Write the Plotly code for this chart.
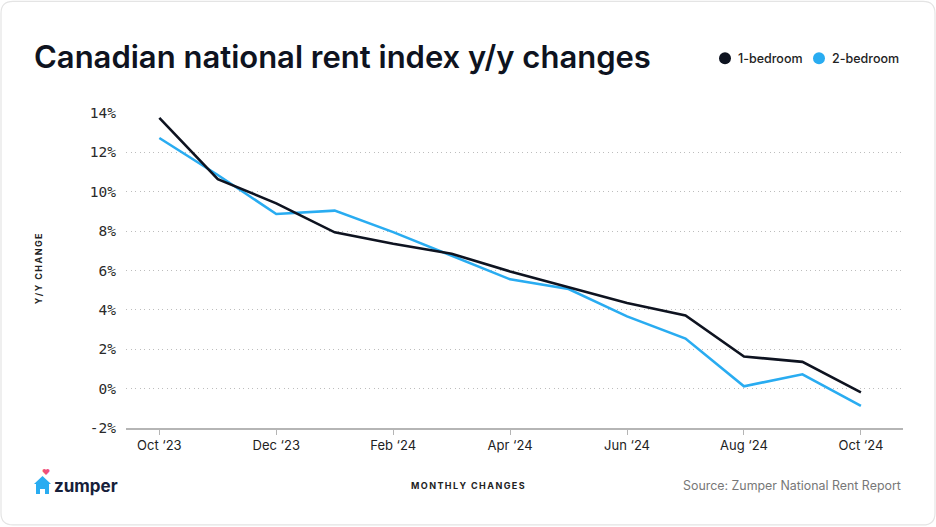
import plotly.graph_objects as go

months = ["Oct 2023", "Nov 2023", "Dec 2023", "Jan 2024", "Feb 2024", "Mar 2024", "Apr 2024",
          "May 2024", "Jun 2024", "Jul 2024", "Aug 2024", "Sep 2024", "Oct 2024"]
one_bed = [13.75, 10.64, 9.41, 7.94, 7.36, 6.85, 5.95, 5.14, 4.35, 3.72, 1.63, 1.36, -0.19]
two_bed = [12.73, 10.85, 8.87, 9.04, 7.95, 6.75, 5.55, 5.06, 3.67, 2.54, 0.12, 0.73, -0.88]
tick_months = ["Oct 2023", "Dec 2023", "Feb 2024", "Apr 2024", "Jun 2024", "Aug 2024", "Oct 2024"]
tick_labels = ["Oct \u201823", "Dec \u201823", "Feb \u201824", "Apr \u201824", "Jun \u201824", "Aug \u201824", "Oct \u201824"]
y_ticks = [-2, 0, 2, 4, 6, 8, 10, 12, 14]
y_labels = ["-2%", "0%", "2%", "4%", "6%", "8%", "10%", "12%", "14%"]
series_names = ["1-bedroom", "2-bedroom"]

BLACK = "#0e1320"
BLUE = "#29acf1"
W, H = 936, 527
L, R, T, B = 126, 903, 111.7, 428


def px(x):
    return (x - L) / (R - L)


def py(y):
    return (B - y) / (B - T)


def spaced(s):
    return "\u2009".join(s)


fig = go.Figure()
fig.add_trace(go.Scatter(x=months, y=two_bed, mode="lines", line=dict(color=BLUE, width=2.6),
                         name=series_names[1], showlegend=False, hoverinfo="skip"))
fig.add_trace(go.Scatter(x=months, y=one_bed, mode="lines", line=dict(color=BLACK, width=2.6),
                         name=series_names[0], showlegend=False, hoverinfo="skip"))

fig.update_layout(
    width=W, height=H,
    margin=dict(l=L, r=W - R, t=T, b=H - B),
    paper_bgcolor="white", plot_bgcolor="white",
    font=dict(family="Inter", color="#222"),
    title=dict(text="Canadian national rent index y/y changes", xref="container", yref="container",
               x=34 / W, xanchor="left", y=1 - 57 / H, yanchor="middle",
               font=dict(family="Inter", size=31, weight=600, color=BLACK)),
    showlegend=False,
    xaxis=dict(type="category", range=[-0.57, 12.72], tickmode="array", tickvals=tick_months,
               ticktext=tick_labels, showgrid=False, showline=True, linecolor="#b5b5b5", linewidth=1.5,
               ticks="outside", ticklen=5, tickcolor="#b5b5b5", tickfont=dict(size=13, color="#222"),
               zeroline=False),
    yaxis=dict(range=[-2, 14.05], tickmode="array", tickvals=y_ticks, ticktext=y_labels,
               showgrid=True, gridcolor="#bdbdbd", griddash="1px,3.5px", gridwidth=1.2, zeroline=False,
               showline=False, ticks="", tickfont=dict(family="DejaVu Sans Mono", size=14.5, color="#2a2a2a"),
               ticklabelstandoff=9),
)

annotations = [
    dict(text="<b>" + spaced("Y/Y CHANGE") + "</b>", x=px(38), y=py(269), textangle=-90,
         font=dict(size=9, color="#222")),
    dict(text="<b>" + spaced("MONTHLY CHANGES") + "</b>", x=px(468), y=py(486),
         font=dict(size=9, color="#222")),
    dict(text="Source: Zumper National Rent Report", x=px(903), y=py(486), xanchor="right",
         font=dict(size=12.4, color="#777")),
    dict(text="<b>zumper</b>", x=px(52), y=py(486), xanchor="left",
         font=dict(size=17, color="#16203a")),
    dict(text="\u2665", x=px(46), y=py(472), font=dict(size=8, color="#f0507a")),
    dict(text=series_names[0], x=px(736), y=py(58), xanchor="left",
         font=dict(size=12.5, weight=500, color="#222")),
    dict(text=series_names[1], x=px(830), y=py(58), xanchor="left",
         font=dict(size=12.5, weight=500, color="#222")),
]
for a in annotations:
    a.update(xref="paper", yref="paper", showarrow=False)
    a.setdefault("xanchor", "center")
    a.setdefault("yanchor", "middle")
fig.update_layout(annotations=annotations)

# card border
r = 12
x0, y0, x1, y1 = 1, 1, 935, 525
card = (f"M {px(x0 + r)} {py(y0)} L {px(x1 - r)} {py(y0)} Q {px(x1)} {py(y0)} {px(x1)} {py(y0 + r)} "
        f"L {px(x1)} {py(y1 - r)} Q {px(x1)} {py(y1)} {px(x1 - r)} {py(y1)} "
        f"L {px(x0 + r)} {py(y1)} Q {px(x0)} {py(y1)} {px(x0)} {py(y1 - r)} "
        f"L {px(x0)} {py(y0 + r)} Q {px(x0)} {py(y0)} {px(x0 + r)} {py(y0)} Z")
house = (f"M {px(42.5)} {py(476)} L {px(51)} {py(484)} L {px(49)} {py(484)} L {px(49)} {py(494)} "
         f"L {px(45)} {py(494)} L {px(45)} {py(489)} L {px(40)} {py(489)} L {px(40)} {py(494)} "
         f"L {px(36)} {py(494)} L {px(36)} {py(484)} L {px(34)} {py(484)} Z")
rx, ry = 6 / (R - L), 6 / (B - T)
shapes = [
    dict(type="path", path=card, line=dict(color="#e4e4e4", width=1.2), layer="below"),
    dict(type="path", path=house, line=dict(width=0), fillcolor=BLUE),
    dict(type="circle", x0=px(725) - rx, x1=px(725) + rx, y0=py(58) - ry, y1=py(58) + ry,
         line=dict(width=0), fillcolor=BLACK),
    dict(type="circle", x0=px(819) - rx, x1=px(819) + rx, y0=py(58) - ry, y1=py(58) + ry,
         line=dict(width=0), fillcolor=BLUE),
]
for s in shapes:
    s.update(xref="paper", yref="paper")
fig.update_layout(shapes=shapes)

fig.write_html("out.html", config={"displayModeBar": False},
               post_script="document.body.style.margin='0';")
